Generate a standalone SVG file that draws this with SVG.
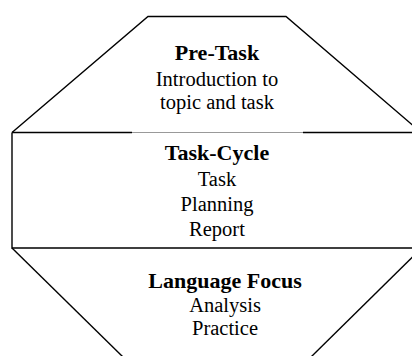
<svg xmlns="http://www.w3.org/2000/svg" width="412" height="356" viewBox="0 0 412 356">
<style>
.ln{fill:none;stroke:#000;stroke-width:1.4;stroke-linejoin:miter}
.gr{fill:none;stroke:#999;stroke-width:1}
text{font-family:"Liberation Serif","Times New Roman",serif;fill:#000;text-anchor:middle}
.h{font-weight:bold;font-size:22px}
.t{font-size:20.5px}
</style>
<rect width="412" height="356" fill="#fff"/>
<g id="pretask">
<path class="ln" d="M12,132.5 L148,16.5 L286,16.5 L413,125.5"/>
<path class="ln" d="M12,132.5 H132 M303,132.5 H412"/>
<path class="gr" d="M132,132.5 H303"/>
<text class="h" x="217" y="60">Pre-Task</text>
<text class="t" x="217" y="86">Introduction to</text>
<text class="t" x="217" y="109">topic and task</text>
</g>
<g id="taskcycle">
<path class="ln" d="M12,132.5 V248 H412"/>
<text class="h" x="217" y="159.5">Task-Cycle</text>
<text class="t" x="217" y="185.5">Task</text>
<text class="t" x="217" y="210.5">Planning</text>
<text class="t" x="217" y="236">Report</text>
</g>
<g id="langfocus">
<path class="ln" d="M12,248 L123,357"/>
<path class="ln" d="M413,256.5 L311,357"/>
<text class="h" x="225" y="288">Language Focus</text>
<text class="t" x="225" y="312">Analysis</text>
<text class="t" x="225" y="335">Practice</text>
</g>
<g id="connectors"/>
</svg>
